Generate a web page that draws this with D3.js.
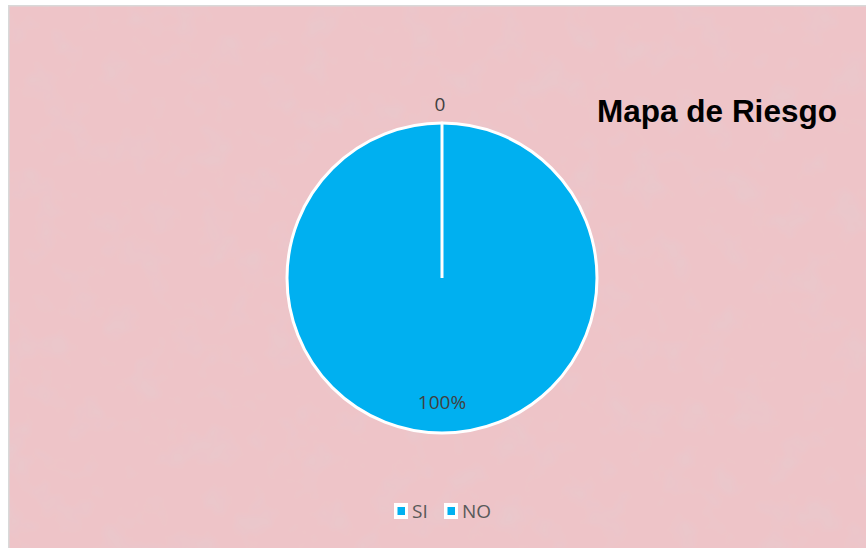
<!DOCTYPE html>
<html><head><meta charset="utf-8">
<script src="https://cdn.jsdelivr.net/npm/d3@7"></script>
<style>html,body{margin:0;padding:0;background:#fff;}svg{display:block;}</style>
</head><body>
<svg id="c" width="866" height="548"></svg>
<script>
const categories = ["SI", "NO"];
const values = [0, 1];
const dataLabels = ["0", "100%"];
const title = "Mapa de Riesgo";

const svg = d3.select("#c");
const W = 866, H = 548;
const defs = svg.append("defs");
const f = defs.append("filter").attr("id","tex").attr("x",0).attr("y",0).attr("width","100%").attr("height","100%");
f.append("feTurbulence").attr("type","fractalNoise").attr("baseFrequency","0.03").attr("numOctaves",3).attr("seed",7).attr("result","n");
f.append("feColorMatrix").attr("in","n").attr("type","matrix")
  .attr("values","0 0 0 0 0.78  0 0 0 0 0.60  0 0 0 0 0.63  -1.2 0 0 0 0.62").attr("result","m");
f.append("feComposite").attr("in","m").attr("in2","SourceGraphic").attr("operator","atop");

svg.append("rect").attr("x",8).attr("y",5).attr("width",W-8).attr("height",H-5).attr("fill","#d9d9d9");
svg.append("rect").attr("x",9.5).attr("y",6.5).attr("width",W-9.5).attr("height",H-6.5).attr("fill","#eec4c8").attr("filter","url(#tex)");

const cx = 442, cy = 278, r = 155;
const color = d3.scaleOrdinal().domain(categories).range(["#00b0f0","#00b0f0"]);
const pie = d3.pie().sort(null).value((d,i)=>values[i]);
const arcs = pie(categories);
const arc = d3.arc().innerRadius(0).outerRadius(r);
const g = svg.append("g").attr("transform",`translate(${cx},${cy})`);
g.selectAll("path").data(arcs).join("path")
  .attr("d",arc).attr("fill",d=>color(d.data))
  .attr("stroke","#fff").attr("stroke-width",3).attr("stroke-linejoin","round");
const zero = arcs[0];
const ang = zero.startAngle;
g.append("line").attr("x1",0).attr("y1",0)
  .attr("x2",Math.sin(ang)*r).attr("y2",-Math.cos(ang)*r)
  .attr("stroke","#fff").attr("stroke-width",3);

const lblFont = "'Open Sans', sans-serif";
g.append("text").attr("x",Math.sin(ang)*(r+20)-2).attr("y",-Math.cos(ang)*(r+20)+8)
  .attr("text-anchor","middle").attr("font-family",lblFont)
  .attr("font-size",19).attr("fill","#404040").text(dataLabels[0]);
const mid = (arcs[1].startAngle+arcs[1].endAngle)/2;
g.append("text").attr("x",Math.sin(mid)*r*0.8).attr("y",-Math.cos(mid)*r*0.8+7)
  .attr("text-anchor","middle").attr("font-family",lblFont)
  .attr("font-size",19).attr("fill","#404040").text(dataLabels[1]);

svg.append("text").attr("x",717).attr("y",122).attr("text-anchor","middle")
  .attr("font-family","'Liberation Sans', Arial, sans-serif").attr("font-weight","bold")
  .attr("font-size",31.5).attr("fill","#000").text(title);

const lg = svg.append("g");
const lx = [394, 444];
categories.forEach((c,i)=>{
  lg.append("rect").attr("x",lx[i]).attr("y",503).attr("width",14).attr("height",16).attr("fill","#fff");
  lg.append("rect").attr("x",lx[i]+3.5).attr("y",507).attr("width",7.5).attr("height",8).attr("fill",color(c));
  lg.append("text").attr("x",lx[i]+18).attr("y",518).attr("font-family",lblFont)
    .attr("font-size",19).attr("fill","#595959").text(c);
});
</script>
</body></html>
